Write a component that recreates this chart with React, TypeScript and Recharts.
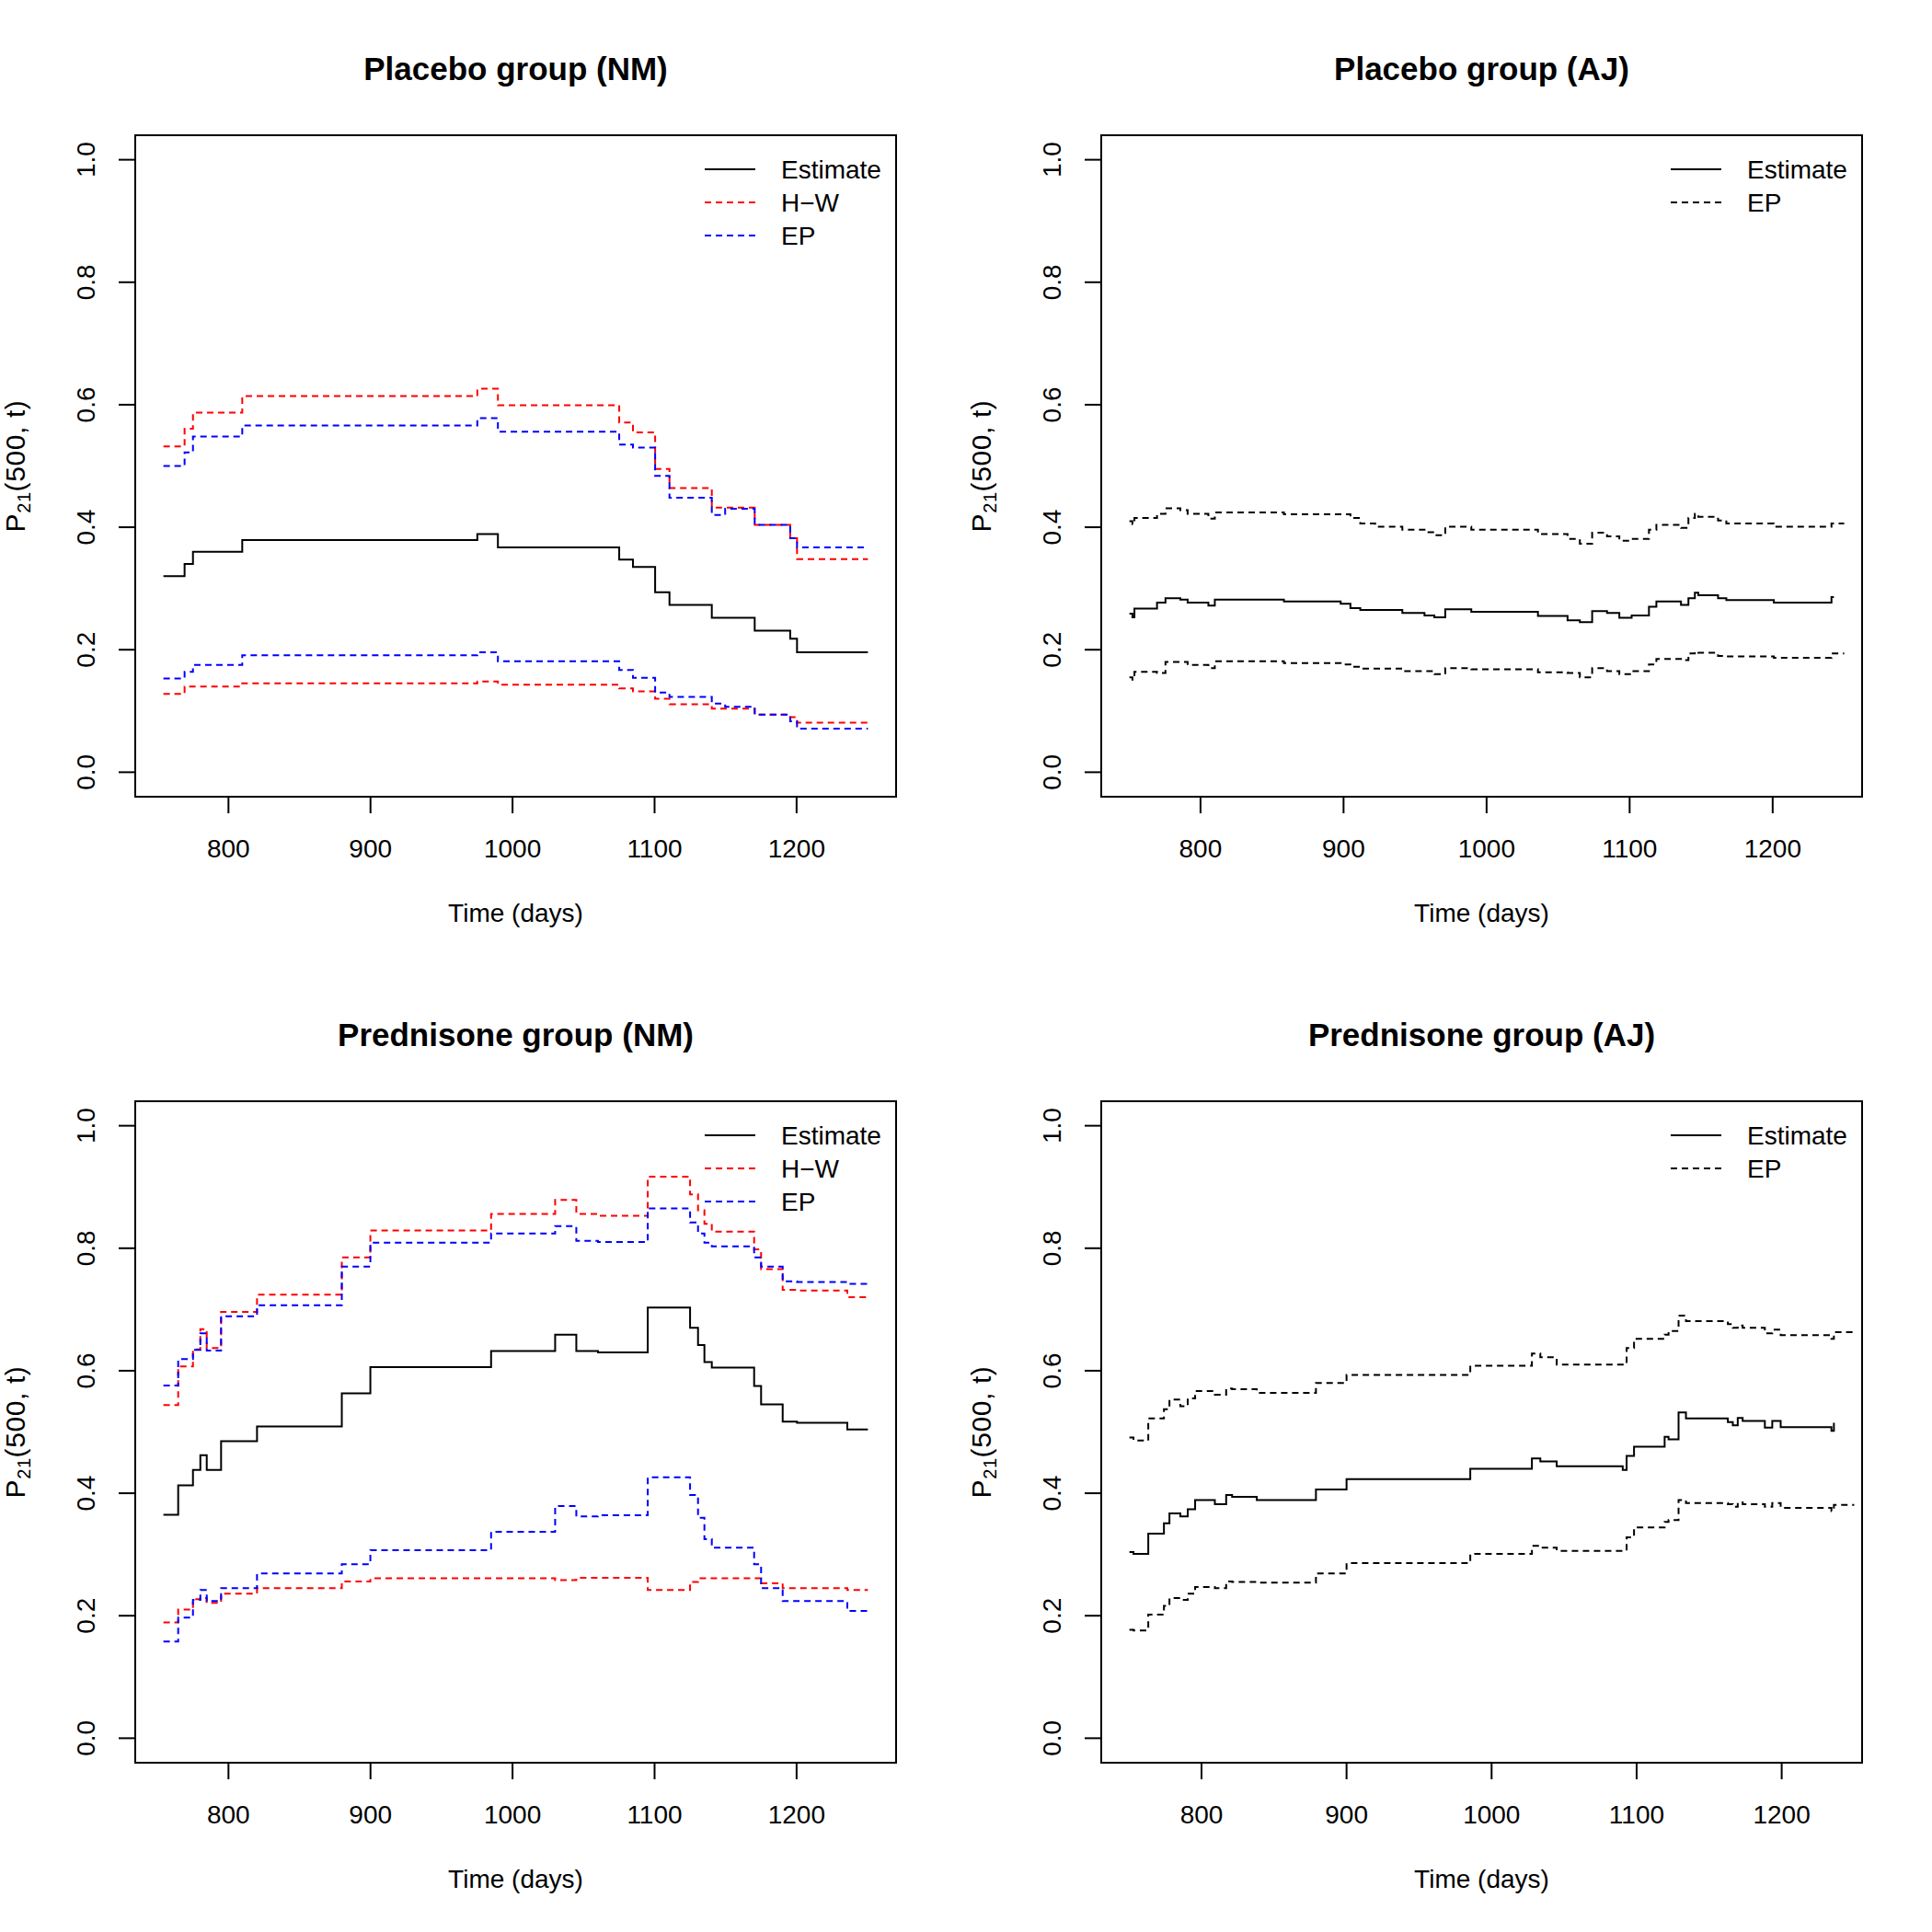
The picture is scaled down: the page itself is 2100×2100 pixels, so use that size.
import React from 'react';
import { LineChart, Line, XAxis, YAxis, ReferenceArea, Legend } from 'recharts';

const FONT = '"Liberation Sans", Arial, Helvetica, sans-serif';
const DASH = '7 5';

const xTicks = [800, 900, 1000, 1100, 1200];
const yTicks = [0, 0.2, 0.4, 0.6, 0.8, 1];

// Placebo group (NM)
const placeboNmTime = [754.2, 769.1, 775.0, 809.7, 975.2, 989.7, 1075.1, 1084.8, 1100.4, 1110.5, 1140.3, 1149.7, 1170.5, 1195.5, 1200.3, 1250.2];
const placeboNmEst = [0.320, 0.340, 0.360, 0.379, 0.389, 0.367, 0.347, 0.335, 0.294, 0.273, 0.252, 0.252, 0.231, 0.218, 0.196, 0.196];
const placeboNmHwHi = [0.532, 0.561, 0.587, 0.614, 0.626, 0.599, 0.571, 0.555, 0.495, 0.464, 0.432, 0.432, 0.404, 0.382, 0.348, 0.348];
const placeboNmHwLo = [0.128, 0.140, 0.140, 0.145, 0.148, 0.143, 0.137, 0.132, 0.120, 0.111, 0.104, 0.104, 0.094, 0.090, 0.081, 0.081];
const placeboNmEpHi = [0.500, 0.522, 0.548, 0.566, 0.578, 0.556, 0.535, 0.530, 0.484, 0.448, 0.420, 0.430, 0.404, 0.382, 0.367, 0.367];
const placeboNmEpLo = [0.153, 0.164, 0.175, 0.191, 0.196, 0.181, 0.167, 0.154, 0.130, 0.123, 0.112, 0.107, 0.094, 0.083, 0.071, 0.071];

// Placebo group (AJ)
const placeboAjTime = [750.3, 752.4, 753.8, 769.6, 775.5, 785.9, 791.0, 805.5, 810.0, 858.3, 898.0, 904.8, 911.7, 922.1, 941.1, 956.6, 963.5, 971.1, 989.3, 1035.9, 1056.6, 1065.2, 1073.8, 1084.2, 1092.8, 1101.4, 1113.5, 1118.7, 1135.9, 1141.1, 1145.6, 1148.0, 1161.8, 1167.6, 1200.8, 1241.1, 1242.8, 1250.0];
const placeboAjEst = [0.259, 0.253, 0.267, 0.277, 0.284, 0.282, 0.277, 0.272, 0.282, 0.279, 0.275, 0.268, 0.265, 0.265, 0.260, 0.256, 0.253, 0.266, 0.262, 0.255, 0.248, 0.245, 0.263, 0.260, 0.252, 0.256, 0.270, 0.279, 0.273, 0.284, 0.293, 0.289, 0.284, 0.281, 0.277, 0.286, 0.286, null];
const placeboAjEpHi = [0.410, 0.405, 0.415, 0.422, 0.431, 0.428, 0.422, 0.414, 0.424, 0.421, 0.421, 0.415, 0.406, 0.401, 0.396, 0.392, 0.387, 0.401, 0.396, 0.389, 0.381, 0.373, 0.391, 0.385, 0.378, 0.381, 0.396, 0.404, 0.399, 0.415, 0.422, 0.417, 0.411, 0.406, 0.401, 0.406, 0.406, 0.406];
const placeboAjEpLo = [0.155, 0.151, 0.164, 0.162, 0.180, 0.180, 0.175, 0.170, 0.181, 0.178, 0.176, 0.172, 0.169, 0.169, 0.165, 0.165, 0.160, 0.170, 0.168, 0.163, 0.162, 0.155, 0.170, 0.165, 0.160, 0.165, 0.176, 0.185, 0.183, 0.194, 0.197, 0.195, 0.190, 0.189, 0.187, 0.194, 0.194, 0.194];

// Prednisone group (NM)
const prednNmTime = [754.2, 764.6, 775.0, 780.2, 784.7, 794.8, 820.1, 879.8, 899.9, 984.9, 1030.0, 1044.9, 1060.2, 1095.2, 1125.0, 1130.6, 1135.1, 1140.3, 1170.1, 1175.0, 1190.2, 1200.3, 1235.7, 1250.2];
const prednNmEst = [0.365, 0.413, 0.438, 0.462, 0.438, 0.485, 0.509, 0.563, 0.606, 0.632, 0.659, 0.632, 0.630, 0.703, 0.670, 0.642, 0.614, 0.605, 0.575, 0.545, 0.517, 0.515, 0.504, 0.504];
const prednNmHwHi = [0.544, 0.607, 0.635, 0.668, 0.637, 0.696, 0.724, 0.785, 0.829, 0.856, 0.879, 0.856, 0.853, 0.917, 0.888, 0.862, 0.840, 0.827, 0.798, 0.766, 0.732, 0.731, 0.720, 0.720];
const prednNmHwLo = [0.189, 0.210, 0.227, 0.229, 0.221, 0.236, 0.245, 0.256, 0.261, 0.261, 0.258, 0.262, 0.262, 0.242, 0.255, 0.261, 0.261, 0.261, 0.261, 0.253, 0.245, 0.245, 0.242, 0.242];
const prednNmEpHi = [0.576, 0.619, 0.634, 0.661, 0.633, 0.689, 0.707, 0.770, 0.809, 0.824, 0.836, 0.812, 0.810, 0.865, 0.842, 0.824, 0.809, 0.803, 0.785, 0.770, 0.746, 0.745, 0.742, 0.742];
const prednNmEpLo = [0.158, 0.197, 0.226, 0.242, 0.224, 0.245, 0.269, 0.284, 0.307, 0.337, 0.379, 0.362, 0.364, 0.426, 0.397, 0.360, 0.325, 0.311, 0.284, 0.245, 0.224, 0.224, 0.208, 0.208];

// Prednisone group (AJ)
const prednAjTime = [750.3, 753.1, 763.3, 774.1, 777.9, 785.4, 790.5, 795.6, 809.2, 817.0, 821.1, 838.1, 878.9, 900.0, 985.3, 1027.8, 1033.6, 1044.9, 1090.4, 1093.1, 1098.2, 1119.3, 1122.0, 1128.9, 1134.0, 1162.9, 1166.3, 1169.7, 1173.1, 1188.4, 1193.5, 1199.3, 1234.3, 1236.0, 1250.0];
const prednAjEst = [0.304, 0.301, 0.334, 0.351, 0.367, 0.362, 0.374, 0.389, 0.382, 0.397, 0.394, 0.389, 0.406, 0.423, 0.440, 0.457, 0.452, 0.444, 0.438, 0.461, 0.476, 0.492, 0.488, 0.532, 0.522, 0.516, 0.511, 0.523, 0.518, 0.507, 0.518, 0.508, 0.502, 0.515, null];
const prednAjEpHi = [0.491, 0.486, 0.522, 0.537, 0.553, 0.542, 0.555, 0.567, 0.561, 0.571, 0.570, 0.564, 0.580, 0.593, 0.608, 0.628, 0.622, 0.610, 0.610, 0.637, 0.652, 0.659, 0.665, 0.690, 0.681, 0.676, 0.670, 0.674, 0.670, 0.661, 0.667, 0.658, 0.652, 0.663, 0.663];
const prednAjEpLo = [0.177, 0.176, 0.202, 0.216, 0.229, 0.226, 0.236, 0.247, 0.245, 0.256, 0.255, 0.254, 0.269, 0.286, 0.301, 0.314, 0.311, 0.306, 0.306, 0.328, 0.344, 0.353, 0.356, 0.389, 0.384, 0.382, 0.378, 0.385, 0.382, 0.378, 0.384, 0.376, 0.371, 0.381, 0.381];

type Series = {
  key: string;
  name: string;
  values: (number | null)[];
  color: string;
  dash?: string;
  legend: boolean;
};

const nmSeries = (est, hwHi, hwLo, epHi, epLo): Series[] => [
  { key: 'est', name: 'Estimate', values: est, color: '#000000', legend: true },
  { key: 'hwHi', name: 'H\u2212W', values: hwHi, color: '#FF0000', dash: DASH, legend: true },
  { key: 'epHi', name: 'EP', values: epHi, color: '#0000FF', dash: DASH, legend: true },
  { key: 'hwLo', name: 'H\u2212W lower', values: hwLo, color: '#FF0000', dash: DASH, legend: false },
  { key: 'epLo', name: 'EP lower', values: epLo, color: '#0000FF', dash: DASH, legend: false },
];

const ajSeries = (est, epHi, epLo): Series[] => [
  { key: 'est', name: 'Estimate', values: est, color: '#000000', legend: true },
  { key: 'epHi', name: 'EP', values: epHi, color: '#000000', dash: DASH, legend: true },
  { key: 'epLo', name: 'EP lower', values: epLo, color: '#000000', dash: DASH, legend: false },
];

const XTick = (props: any) => {
  const { x, y, payload } = props;
  return (
    <text x={x} y={y + 46} textAnchor="middle" fontSize={28} fontFamily={FONT} fill="#000">
      {payload.value}
    </text>
  );
};

const YTick = (props: any) => {
  const { x, y, payload } = props;
  const cx = x - 24;
  return (
    <text x={cx} y={y} transform={`rotate(-90, ${cx}, ${y})`} textAnchor="middle" fontSize={28} fontFamily={FONT} fill="#000">
      {Number(payload.value).toFixed(1)}
    </text>
  );
};

const YTitle = (props: any) => {
  const vb = props.viewBox || { y: 147, height: 719 };
  const cx = 27;
  const cy = vb.y + vb.height / 2;
  return (
    <text
      x={cx}
      y={cy}
      transform={`rotate(-90, ${cx}, ${cy})`}
      textAnchor="middle"
      fontSize={30}
      letterSpacing={0.6}
      fontFamily={FONT}
      fill="#000"
    >
      P<tspan fontSize={20} dy={6}>21</tspan>
      <tspan dy={-6}>(500, t)</tspan>
    </text>
  );
};

const XTitle = (props: any) => {
  const vb = props.viewBox || { x: 147, y: 866, width: 827 };
  return (
    <text x={vb.x + vb.width / 2} y={vb.y + 136} textAnchor="middle" fontSize={28} fontFamily={FONT} fill="#000">
      Time (days)
    </text>
  );
};

const Panel = ({ left, top, title, time, series }: { left: number; top: number; title: string; time: number[]; series: Series[] }) => {
  const rows = time.map((t, i) => {
    const r: Record<string, number | null> = { t };
    series.forEach((s) => {
      r[s.key] = s.values[i];
    });
    return r;
  });
  // R-style axis limits: range of the estimate plus 4% on each side
  const est = series[0].values;
  const estTimes = time.filter((_, i) => est[i] !== null);
  const a = Math.min(...estTimes);
  const b = Math.max(...estTimes);
  const pad = (b - a) * 0.04;
  const dom: [number, number] = [a - pad, b + pad];
  const legendItems = series.filter((s) => s.legend);

  return (
    <div style={{ position: 'absolute', left, top, width: 1050, height: 1050 }}>
      <div
        style={{
          position: 'absolute',
          left: 147,
          top: 57,
          width: 827,
          textAlign: 'center',
          fontFamily: FONT,
          fontWeight: 'bold',
          fontSize: 35,
          lineHeight: '35px',
          color: '#000',
        }}
      >
        {title}
      </div>
      <LineChart width={1050} height={1050} data={rows} margin={{ top: 147, right: 76, bottom: 0, left: 0 }}>
        <XAxis
          dataKey="t"
          type="number"
          domain={dom}
          allowDataOverflow
          ticks={xTicks}
          height={184}
          axisLine={false}
          tickSize={18}
          tickLine={{ stroke: '#000', strokeWidth: 2 }}
          tick={<XTick />}
          label={<XTitle />}
        />
        <YAxis
          type="number"
          domain={[-0.04, 1.04]}
          allowDataOverflow
          ticks={yTicks}
          width={147}
          axisLine={false}
          tickSize={18}
          tickLine={{ stroke: '#000', strokeWidth: 2 }}
          tick={<YTick />}
          label={<YTitle />}
        />
        <ReferenceArea x1={dom[0]} x2={dom[1]} y1={-0.04} y2={1.04} fill="none" fillOpacity={0} stroke="#000" strokeWidth={2} ifOverflow="visible" />
        {series.map((s) => (
          <Line
            key={s.key}
            dataKey={s.key}
            name={s.name}
            type="stepAfter"
            stroke={s.color}
            strokeWidth={2}
            strokeDasharray={s.dash}
            dot={false}
            activeDot={false}
            connectNulls={false}
            legendType={s.legend ? 'line' : 'none'}
            isAnimationActive={false}
          />
        ))}
        <Legend
          layout="vertical"
          align="center"
          verticalAlign="middle"
          wrapperStyle={{ left: 766, top: 166, width: 240, height: 112 }}
          content={() => (
            <svg width={240} height={112} style={{ display: 'block' }}>
              {legendItems.map((s, i) => (
                <g key={s.key}>
                  <line x1={0} x2={55} y1={18 + i * 36} y2={18 + i * 36} stroke={s.color} strokeWidth={2} strokeDasharray={s.dash} />
                  <text x={83} y={28 + i * 36} fontSize={28} fontFamily={FONT} fill="#000">
                    {s.name}
                  </text>
                </g>
              ))}
            </svg>
          )}
        />
      </LineChart>
    </div>
  );
};

export default function App() {
  return (
    <div style={{ position: 'absolute', left: 0, top: 0, width: 2100, height: 2100, background: '#fff' }}>
      <Panel
        left={0}
        top={0}
        title="Placebo group (NM)"
        time={placeboNmTime}
        series={nmSeries(placeboNmEst, placeboNmHwHi, placeboNmHwLo, placeboNmEpHi, placeboNmEpLo)}
      />
      <Panel left={1050} top={0} title="Placebo group (AJ)" time={placeboAjTime} series={ajSeries(placeboAjEst, placeboAjEpHi, placeboAjEpLo)} />
      <Panel
        left={0}
        top={1050}
        title="Prednisone group (NM)"
        time={prednNmTime}
        series={nmSeries(prednNmEst, prednNmHwHi, prednNmHwLo, prednNmEpHi, prednNmEpLo)}
      />
      <Panel left={1050} top={1050} title="Prednisone group (AJ)" time={prednAjTime} series={ajSeries(prednAjEst, prednAjEpHi, prednAjEpLo)} />
    </div>
  );
}
